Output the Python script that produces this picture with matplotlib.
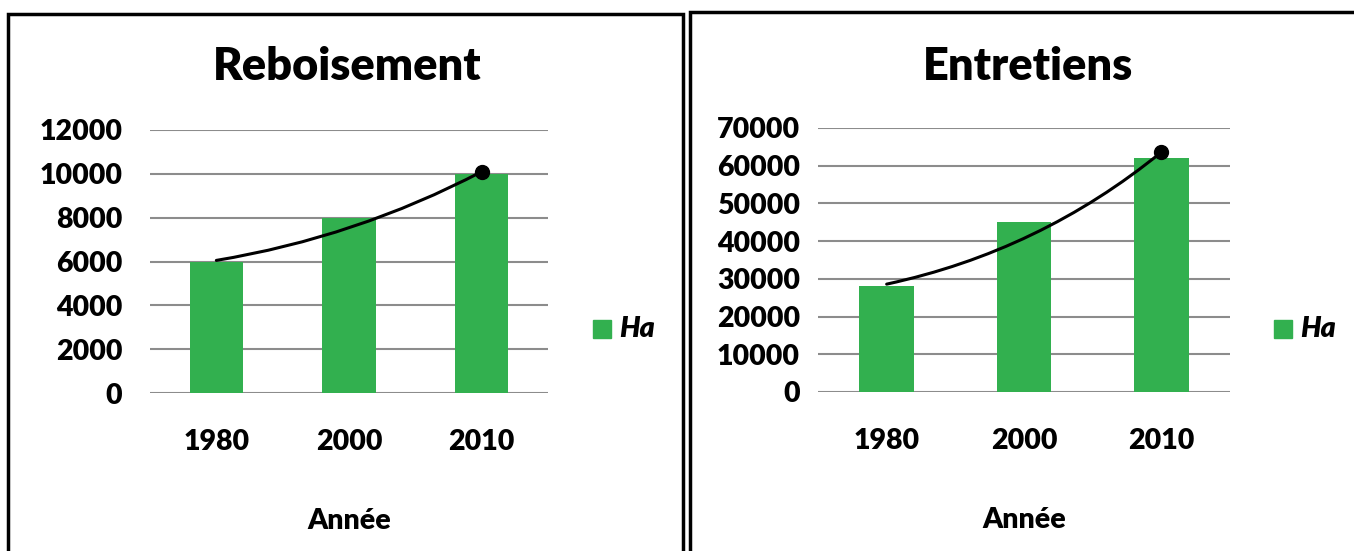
import matplotlib.pyplot as plt
from matplotlib.patches import Rectangle
import numpy as np

plt.rcParams['font.family'] = ['Lato', 'DejaVu Sans']

years = ['1980', '2000', '2010']
reboisement = [6000, 8000, 10000]
entretiens = [28000, 45000, 62000]
# trend curve ends (start, end) as drawn on the chart
reb_trend = [6050, 10100]
ent_trend = [28600, 63600]

green = '#32b04f'
W, H = 1354, 551
fig = plt.figure(figsize=(W / 100, H / 100), dpi=100)


def px(x0, y0, x1, y1):
    # pixel box -> figure fraction rect
    return [x0 / W, 1 - y1 / H, (x1 - x0) / W, (y1 - y0) / H]


def panel(rect, vals, trend, ymax, step, title, tx, lx, rad, ypad):
    ax = fig.add_axes(rect)
    x = np.arange(len(vals))
    ax.bar(x, vals, width=0.4, color=green, zorder=3)
    ax.set_xlim(-0.5, len(vals) - 0.5)
    ax.set_ylim(0, ymax)
    ax.set_yticks(np.arange(0, ymax + 1, step))
    ax.set_xticks(x)
    ax.set_xticklabels(years)
    ax.grid(axis='y', color='#8c8c8c', linewidth=1.5, zorder=0)
    for s in ax.spines.values():
        s.set_visible(False)
    ax.tick_params(length=0, labelsize=20.5)
    ax.tick_params(axis='y', pad=ypad)
    ax.tick_params(axis='x', pad=26)
    for t in ax.get_xticklabels() + ax.get_yticklabels():
        t.set_fontweight('heavy')
    ax.set_xlabel('Année', fontsize=20.5, fontweight='heavy', labelpad=38)
    ax.annotate('', xy=(2, trend[1]), xytext=(0, trend[0]),
                arrowprops=dict(arrowstyle='-', color='black', lw=2.2,
                                shrinkA=0, shrinkB=0,
                                connectionstyle='arc3,rad=%s' % rad),
                zorder=5)
    ax.plot([2], [trend[1]], 'o', color='black', markersize=10, zorder=6)
    fig.text(tx / W, 1 - 66 / H, title, fontsize=32.5, fontweight='heavy',
             ha='center', va='center')
    fig.patches.append(Rectangle((lx / W, 1 - 338 / H), 18 / W, 18 / H,
                                 transform=fig.transFigure, color=green))
    fig.text((lx + 26) / W, 1 - 329 / H, 'Ha', fontsize=20.5, fontweight='heavy',
             style='italic', ha='left', va='center')
    return ax


panel(px(150, 130, 548, 393), reboisement, reb_trend, 12000, 2000,
      'Reboisement', 347, 593, 0.08, 20)
panel(px(818, 128, 1230, 392), entretiens, ent_trend, 70000, 10000,
      'Entretiens', 1028, 1274, 0.12, 13)

# panel borders
for x0, y0, x1 in [(8, 14, 683), (690, 12, 1360)]:
    fig.patches.append(Rectangle((x0 / W, -0.05), (x1 - x0) / W, 1.05 - y0 / H,
                                 transform=fig.transFigure, fill=False,
                                 edgecolor='black', linewidth=2.5))

fig.savefig('out.png', dpi=100)
